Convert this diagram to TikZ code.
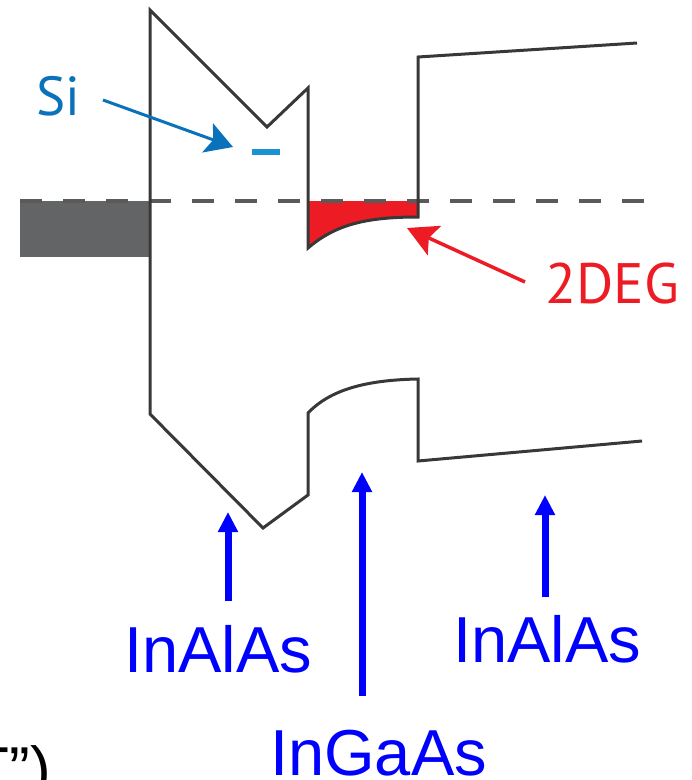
\documentclass[tikz,border=0pt]{standalone}
\usepackage{fontspec}
\setmainfont{Liberation Sans}
\newfontfamily\myriadlike{PT Sans}
\usetikzlibrary{arrows.meta}
\definecolor{bandcol}{HTML}{383838}
\definecolor{boxgray}{HTML}{636466}
\definecolor{fermicol}{HTML}{5A5A5A}
\definecolor{degred}{HTML}{ED1C24}
\definecolor{sitext}{HTML}{0A72BA}
\definecolor{minuscol}{HTML}{1A93D2}
\definecolor{labblue}{HTML}{0000FF}
\begin{document}
\begin{tikzpicture}[x=1pt,y=-1pt,
  bandline/.style={draw=bandcol,line width=3pt,line join=miter},
  fermi/.style={draw=fermicol,line width=4pt,dash pattern=on 22pt off 21pt},
  labeltext/.style={text=labblue,font=\fontsize{65}{78}\selectfont,inner sep=0pt},
  uparrow/.style={draw=labblue,line width=7pt,-{Triangle[width=19pt,length=20pt]}},
  sinote/.style={text=sitext,font=\myriadlike\fontsize{55}{66}\selectfont,inner sep=0pt},
  degnote/.style={text=degred,font=\myriadlike\fontsize{57}{68}\selectfont,inner sep=0pt},
  siarrow/.style={draw=sitext,line width=3pt,-{Stealth[length=27pt,width=31pt,inset=6pt]}},
  degarrow/.style={draw=degred,line width=3.5pt,-{Stealth[length=30pt,width=32pt,inset=6pt]}}]
\useasboundingbox (0,0) rectangle (692,780);
\clip (0,0) rectangle (692,780);
% metal contact
\fill[boxgray] (20,201) rectangle (150,257);
% 2DEG
\fill[degred] (308,201) -- (308,248) .. controls (335,225) and (365,217) .. (418,217) -- (418,201) -- cycle;
% Fermi level
\coordinate (fl) at (20,201);
\coordinate (fr) at (647,201);
\draw[fermi] (fl) -- (fr);
% band edges
\draw[bandline] (637,43) -- (418,57) -- (418,217)
  .. controls (365,217) and (335,225) .. (308,248)
  -- (308,88) -- (267,127) -- (150,10) -- (150,414) -- (263,528) -- (308,495) -- (308,413)
  .. controls (330,390) and (365,380) .. (418,379) -- (418,461) -- (642,441);
% Si donor
\node[sinote,anchor=base west] (si) at (36,115) {Si};
\node[fill=minuscol,minimum width=28pt,minimum height=6pt,inner sep=0pt] (minus) at (266,152) {};
\coordinate (sistart) at (103,100);
\coordinate (sitip) at (233,147);
\draw[siarrow] (sistart) -- (sitip);
% 2DEG label
\node[degnote,anchor=base west] (deg) at (545,303) {2DEG};
\coordinate (degstart) at (525,282);
\coordinate (degtip) at (407,228);
\draw[degarrow] (degstart) -- (degtip);
% layer labels
\node[labeltext,anchor=base west] (l1) at (124,672) {InAlAs};
\node[labeltext,anchor=base west] (l2) at (270,775) {InGaAs};
\node[labeltext,anchor=base west] (l3) at (453,662) {InAlAs};
\coordinate (a1b) at (228,601); \coordinate (a1t) at (228,512);
\coordinate (a2b) at (362,696); \coordinate (a2t) at (362,472);
\coordinate (a3b) at (545,597); \coordinate (a3t) at (545,495);
\draw[uparrow] (a1b) -- (a1t);
\draw[uparrow] (a2b) -- (a2t);
\draw[uparrow] (a3b) -- (a3t);
% cut-off caption fragment
\node[anchor=base east,inner sep=0pt,font=\fontsize{62}{74}\selectfont] (cap) at (51,790) {T”)};
\end{tikzpicture}
\end{document}
